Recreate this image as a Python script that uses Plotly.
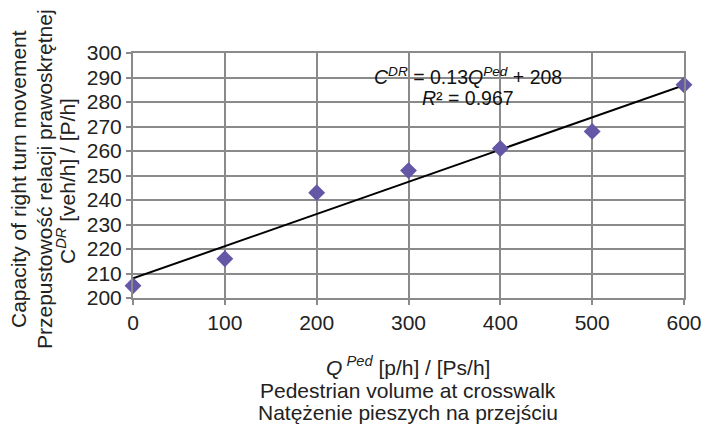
import numpy as np
import plotly.graph_objects as go

ped_volume = [0, 100, 200, 300, 400, 500, 600]
capacity = [205, 216, 243, 252, 261, 268, 287]

x_ticks = [0, 100, 200, 300, 400, 500, 600]
y_ticks = [200, 210, 220, 230, 240, 250, 260, 270, 280, 290, 300]

slope, intercept = np.polyfit(ped_volume, capacity, 1)
fit_y = [slope * v + intercept for v in ped_volume]

FONT = "Liberation Sans, Arial, sans-serif"
GRID = "#8a8a8a"

fig = go.Figure()
fig.add_trace(go.Scatter(
    x=ped_volume, y=fit_y, mode="lines",
    line=dict(color="black", width=2), showlegend=False, hoverinfo="skip"))
fig.add_trace(go.Scatter(
    x=ped_volume, y=capacity, mode="markers",
    marker=dict(symbol="diamond", size=13, color="#6457a6"),
    showlegend=False, cliponaxis=False))

W, H = 704, 424
L, R, T, B = 133, 20, 53, 126

fig.update_layout(
    width=W, height=H,
    margin=dict(l=L, r=R, t=T, b=B, autoexpand=False),
    paper_bgcolor="white", plot_bgcolor="white",
    font=dict(family=FONT, size=21, color="#222"),
    xaxis=dict(range=[0, 600], tickvals=x_ticks, showgrid=True, gridcolor=GRID,
               gridwidth=2, showline=True, linecolor=GRID, linewidth=2,
               ticks="outside", ticklen=5, tickcolor=GRID, tickwidth=2,
               zeroline=False, mirror=True, automargin=False),
    yaxis=dict(range=[200, 300], tickvals=y_ticks, showgrid=True, gridcolor=GRID,
               gridwidth=2, showline=True, linecolor=GRID, linewidth=2,
               ticks="outside", ticklen=5, tickcolor=GRID, tickwidth=2,
               zeroline=False, mirror=True, automargin=False),
)

# equation annotation
fig.add_annotation(x=468, y=76, showarrow=False,
                   text="<i>C</i><sup><i>DR</i></sup> = 0.13<i>Q</i><sup><i>Ped</i></sup> + 208",
                   font=dict(size=19.5, color="#111"), xanchor="center", yanchor="middle")
fig.add_annotation(x=468, y=98, showarrow=False,
                   text="<i>R</i>² = 0.967",
                   font=dict(size=19.5, color="#111"), xanchor="center", yanchor="middle")

# x-axis title lines
fig.add_annotation(x=408, y=366, showarrow=False,
                   text="<i>Q</i><sup><i> Ped</i></sup> [p/h] / [Ps/h]",
                   font=dict(size=21), xanchor="center", yanchor="middle")
fig.add_annotation(x=408, y=390, showarrow=False,
                   text="Pedestrian volume at crosswalk",
                   font=dict(size=21), xanchor="center", yanchor="middle")
fig.add_annotation(x=408, y=412, showarrow=False,
                   text="Natężenie pieszych na przejściu",
                   font=dict(size=21), xanchor="center", yanchor="middle")

# y-axis title lines
fig.add_annotation(x=18, y=179, showarrow=False, textangle=-90,
                   text="Capacity of right turn movement",
                   font=dict(size=21), xanchor="center", yanchor="middle")
fig.add_annotation(x=44, y=179, showarrow=False, textangle=-90,
                   text="Przepustowość relacji prawoskrętnej",
                   font=dict(size=21), xanchor="center", yanchor="middle")
fig.add_annotation(x=66, y=181, showarrow=False, textangle=-90,
                   text="C<sup><i>DR</i></sup> [veh/h] / [P/h]",
                   font=dict(size=21), xanchor="center", yanchor="middle")

# convert pixel positions to paper coordinates
pw, ph = W - L - R, H - T - B
for ann in fig.layout.annotations:
    ann.xref = "paper"
    ann.yref = "paper"
    ann.x = (ann.x - L) / pw
    ann.y = 1 - (ann.y - T) / ph

fig.write_html("out.html")
